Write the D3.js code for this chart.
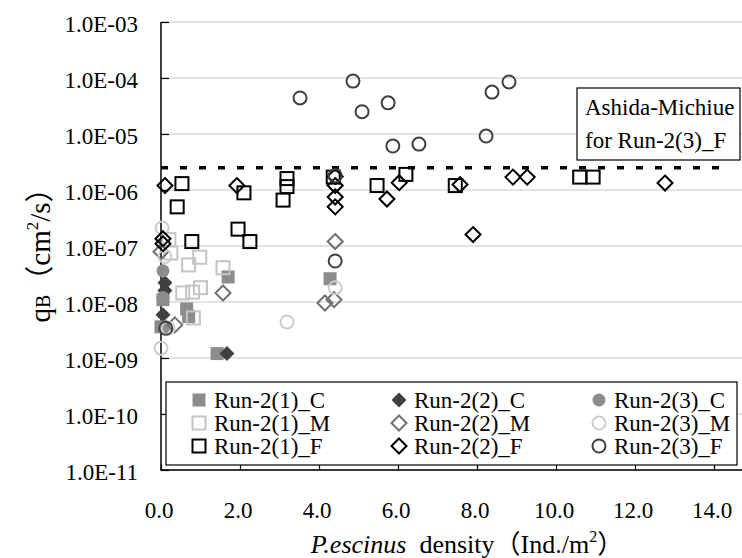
<!DOCTYPE html>
<html>
<head>
<meta charset="utf-8">
<script src="https://cdn.jsdelivr.net/npm/d3@7"></script>
<style>
  body { margin: 0; background: #fff; }
  svg text { font-family: "Liberation Serif", "Times New Roman", Times, "Noto Sans CJK JP", serif; fill: #000; }
</style>
</head>
<body>
<div id="container"></div>
<script>
// density (Ind./m2) , qB (cm2/s)
let run21C = [[0.05, 1.1e-8], [0.0, 3.6e-9], [0.65, 7.5e-9], [0.7, 5.5e-9], [1.42, 1.2e-9], [1.7, 2.8e-8], [4.28, 2.6e-8]];
let run22C = [[0.1, 2.2e-8], [0.1, 1.6e-8], [0.05, 5.9e-9], [1.67, 1.2e-9]];
let run23C = [[0.05, 3.6e-8], [0.05, 1.2e-8], [0.08, 3.6e-9]];
let run21M = [[0.2, 1.3e-7], [0.25, 7.5e-8], [0.7, 4.6e-8], [0.98, 6.3e-8], [1.57, 4.1e-8], [0.55, 1.45e-8], [0.8, 1.5e-8], [1.0, 1.8e-8], [0.82, 5.2e-9]];
let run22M = [[0.0, 7.9e-8], [0.35, 3.9e-9], [1.57, 1.45e-8], [4.41, 1.2e-7], [4.15, 9.6e-9], [4.38, 1.1e-8]];
let run23M = [[0.03, 2.1e-7], [0.1, 6.5e-8], [0.18, 3.4e-9], [0.0, 1.5e-9], [3.19, 4.4e-9], [4.41, 1.8e-8]];
let run21F = [[0.53, 1.3e-6], [0.41, 5.0e-7], [0.78, 1.2e-7], [1.95, 2.0e-7], [2.25, 1.2e-7], [2.1, 8.9e-7],
              [3.19, 1.6e-6], [3.19, 1.15e-6], [3.09, 6.6e-7], [4.36, 1.7e-6], [5.47, 1.2e-6], [6.2, 1.9e-6],
              [7.45, 1.2e-6], [10.6, 1.7e-6], [10.94, 1.7e-6]];
let run22F = [[0.1, 1.2e-6], [0.05, 1.35e-7], [0.05, 1.1e-7], [1.92, 1.2e-6], [4.41, 1.75e-6], [4.41, 1.2e-6],
              [4.41, 7.5e-7], [4.41, 5.0e-7], [5.72, 6.9e-7], [6.03, 1.35e-6], [7.57, 1.25e-6], [7.9, 1.6e-7],
              [8.91, 1.7e-6], [9.27, 1.7e-6], [12.76, 1.33e-6]];
let run23F = [[3.52, 4.4e-5], [4.86, 8.8e-5], [5.09, 2.5e-5], [5.75, 3.6e-5], [5.87, 6.1e-6], [6.53, 6.6e-6],
              [8.23, 9.2e-6], [8.38, 5.6e-5], [8.81, 8.5e-5], [4.41, 1.8e-6], [4.41, 5.4e-8], [0.12, 3.4e-9]];

let ashidaQ = 2.5e-6;
let ashidaX = [0, 14.3];
let xTicks = [0, 2, 4, 6, 8, 10, 12, 14];
let yTicks = [1e-3, 1e-4, 1e-5, 1e-6, 1e-7, 1e-8, 1e-9, 1e-10, 1e-11];

let seriesNames = ["Run-2(1)_C", "Run-2(2)_C", "Run-2(3)_C",
                   "Run-2(1)_M", "Run-2(2)_M", "Run-2(3)_M",
                   "Run-2(1)_F", "Run-2(2)_F", "Run-2(3)_F"];
let seriesData = [run21C, run22C, run23C, run21M, run22M, run23M, run21F, run22F, run23F];
let seriesStyle = [
    {shape: "square",  fill: "#8c8c8c", stroke: "none"},
    {shape: "diamond", fill: "#404040", stroke: "none"},
    {shape: "circle",  fill: "#8c8c8c", stroke: "none"},
    {shape: "square",  fill: "none", stroke: "#c4c4c4"},
    {shape: "diamond", fill: "none", stroke: "#707070"},
    {shape: "circle",  fill: "none", stroke: "#cccccc"},
    {shape: "square",  fill: "none", stroke: "#000"},
    {shape: "diamond", fill: "none", stroke: "#000"},
    {shape: "circle",  fill: "none", stroke: "#404040"}
];

const FONT = "'Liberation Serif', 'Times New Roman', Times, 'Noto Sans CJK JP', serif";
let width = 742, height = 558;
let svg = d3.select('#container')
    .append('svg')
    .attr("width", width)
    .attr("height", height)
    .attr("font-family", FONT);

let x = d3.scaleLinear().domain([0, 15]).range([161, 161 + 15 * 39.5]);
let y = d3.scaleLog().domain([1e-11, 1e-3]).range([470, 22]);

// grid
svg.append("g")
    .selectAll("line")
    .data(yTicks)
    .enter()
    .append("line")
    .attr("x1", x(0)).attr("x2", width)
    .attr("y1", d => y(d)).attr("y2", d => y(d))
    .attr("stroke", "#c8c8c8")
    .attr("stroke-width", 1);

// axes, ticks point inward
let fmtY = d => "1.0E-" + String(Math.round(-Math.log10(d))).padStart(2, "0");
let yAxis = svg.append("g")
    .attr("transform", `translate(${x(0)},0)`)
    .call(d3.axisRight(y).tickValues(yTicks).tickSize(8).tickFormat(""));
let xAxis = svg.append("g")
    .attr("transform", `translate(0,${y(1e-11)})`)
    .call(d3.axisTop(x).tickValues(xTicks).tickSize(6).tickFormat(""));
[xAxis, yAxis].forEach(a => {
    a.select(".domain").remove();
    a.selectAll(".tick line").attr("stroke", "#000").attr("stroke-width", 1.2);
});
svg.append("line")
    .attr("x1", x(0)).attr("x2", x(0))
    .attr("y1", y(1e-3)).attr("y2", y(1e-11))
    .attr("stroke", "#000").attr("stroke-width", 1.5);
svg.append("line")
    .attr("x1", x(0) - 0.75).attr("x2", width)
    .attr("y1", y(1e-11)).attr("y2", y(1e-11))
    .attr("stroke", "#000").attr("stroke-width", 1.5);

svg.append("g")
    .selectAll("text")
    .data(yTicks)
    .enter()
    .append("text")
    .attr("x", 138)
    .attr("y", d => y(d))
    .attr("dy", 10)
    .attr("text-anchor", "end")
    .attr("font-size", 23)
    .text(fmtY);

svg.append("g")
    .selectAll("text")
    .data(xTicks)
    .enter()
    .append("text")
    .attr("x", d => x(d) - 2)
    .attr("y", 518)
    .attr("text-anchor", "middle")
    .attr("font-size", 23)
    .text(d => d.toFixed(1));

// axis titles (full-width brackets as in the original)
let xt = svg.append("text")
    .attr("x", 467)
    .attr("y", 553)
    .attr("text-anchor", "middle")
    .attr("font-size", 26);
xt.append("tspan").attr("font-style", "italic").text("P.escinus");
xt.append("tspan").text("\u00a0 density\uff08Ind./m");
xt.append("tspan").attr("font-size", 16).attr("dy", -11).text("2");
xt.append("tspan").attr("dy", 11).text("\uff09");

let yt = svg.append("text")
    .attr("transform", "translate(50,248) rotate(-90)")
    .attr("text-anchor", "middle")
    .attr("font-size", 29);
yt.append("tspan").text("q");
yt.append("tspan").attr("font-size", 20).text("B");
yt.append("tspan").text("\uff08cm");
yt.append("tspan").attr("font-size", 17).attr("dy", -12).text("2");
yt.append("tspan").attr("dy", 12).text("/s\uff09");

// Ashida-Michiue line
svg.append("line")
    .attr("x1", x(ashidaX[0])).attr("x2", x(ashidaX[1]))
    .attr("y1", y(ashidaQ)).attr("y2", y(ashidaQ))
    .attr("stroke", "#000")
    .attr("stroke-width", 3.5)
    .attr("stroke-dasharray", "7,12");

svg.append("rect")
    .attr("x", 577).attr("y", 88)
    .attr("width", 163).attr("height", 72)
    .attr("fill", "#fff")
    .attr("stroke", "#000").attr("stroke-width", 1.2);
svg.append("text").attr("x", 585).attr("y", 115).attr("font-size", 23).text("Ashida-Michiue");
svg.append("text").attr("x", 585).attr("y", 148).attr("font-size", 23).text("for Run-2(3)_F");

// markers
function drawMarker(g, st, cx, cy) {
    let m;
    if (st.shape === "square") {
        m = g.append("rect").attr("x", cx - 6.5).attr("y", cy - 6.5).attr("width", 13).attr("height", 13);
    } else if (st.shape === "diamond") {
        m = g.append("path").attr("d", `M${cx},${cy - 7.5}L${cx + 7.5},${cy}L${cx},${cy + 7.5}L${cx - 7.5},${cy}Z`);
    } else {
        m = g.append("circle").attr("cx", cx).attr("cy", cy).attr("r", 6.5);
    }
    m.attr("fill", st.fill)
     .attr("stroke", st.stroke)
     .attr("stroke-width", st.stroke === "none" ? 0 : 2);
}

let plot = svg.append("g");
seriesData.forEach((arr, i) => {
    let g = plot.append("g").attr("class", "series");
    arr.forEach(d => drawMarker(g, seriesStyle[i], x(d[0]), y(d[1])));
});

// legend
let lg = svg.append("g");
lg.append("rect")
    .attr("x", 166).attr("y", 382)
    .attr("width", 571).attr("height", 83)
    .attr("fill", "#fff")
    .attr("stroke", "#000").attr("stroke-width", 1.2);
seriesNames.forEach((name, i) => {
    let col = i % 3, row = Math.floor(i / 3);
    let lx = 199 + col * 200, ly = 400 + row * 23;
    drawMarker(lg, seriesStyle[i], lx, ly);
    lg.append("text")
        .attr("x", lx + 15)
        .attr("y", ly + 8)
        .attr("font-size", 23)
        .text(name);
});
</script>
</body>
</html>
